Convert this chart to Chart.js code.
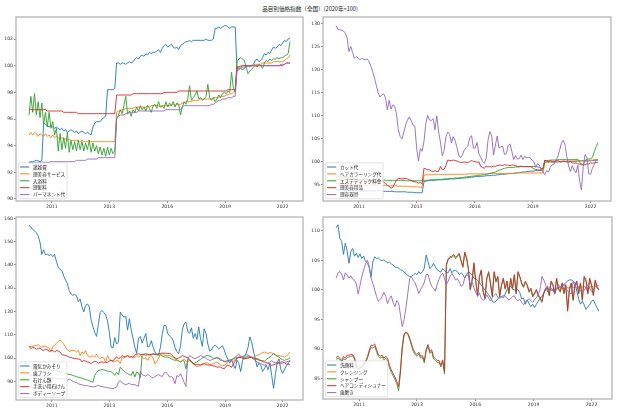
<!DOCTYPE html>
<html>
<head>
<meta charset="utf-8">
<script src="https://cdn.jsdelivr.net/npm/chart.js@4.4.1/dist/chart.umd.min.js"></script>
<style>
  html, body { margin: 0; padding: 0; background: #fff; }
  body { width: 620px; height: 413px; position: relative; overflow: hidden; }
  canvas { position: absolute; }
  #title { position: absolute; left: 0; top: 6px; width: 620px; text-align: center;
           font: 5.6px/7px "Noto Sans CJK JP"; color: #222; }
</style>
</head>
<body>
<div id="title">品目別価格指数（全国）(2020年=100)</div>
<canvas id="p1" width="310" height="203" style="left:0;top:12px"></canvas>
<canvas id="p2" width="310" height="203" style="left:307px;top:12px"></canvas>
<canvas id="p3" width="310" height="201" style="left:0;top:212px"></canvas>
<canvas id="p4" width="310" height="201" style="left:307px;top:212px"></canvas>
<script>
// monthly index, 0 = first month of the series (144 months)
const yearTicks = ['2011', '2013', '2016', '2019', '2022'];
const yearTickPos = [12.5, 44, 75.75, 107.5, 139];

// --- panel 1 ---
const labels1 = ['諸雑費', '理美容サービス', '入浴料', '理髪料', 'パーマネント代'];
const shozappi = [
  92.75, 92.8, 92.8, 92.85, 92.9, 92.85, 92.8, 92.9, 95.7, 95.6, 95.5, 95.4,
  95.5, 95.4, 95.3, 95.4, 95.3, 95.2, 95.3, 95.1, 95.2, 95.0, 95.1, 95.2,
  95.1, 95.0, 95.1, 94.9, 95.0, 95.1, 95.0, 94.9, 95.0, 94.9, 94.8, 95.4,
  95.7, 95.8, 95.8, 95.8, 96.0, 96.1, 96.2, 98.2, 98.2, 98.2, 98.2, 98.3,
  100.2, 100.2, 100.1, 100.2, 100.2, 100.1, 100.2, 100.3, 100.2, 100.3, 100.5, 100.6,
  100.5, 100.7, 100.8, 100.7, 100.9, 100.8, 101.0, 100.9, 101.0, 101.0, 101.1, 101.2,
  101.0, 101.3, 101.5, 101.6, 101.4, 101.5, 101.6, 101.4, 101.3, 101.4, 101.2, 101.5,
  101.6, 101.7, 101.8, 101.8, 101.9, 101.8, 101.9, 101.9, 101.9, 101.9, 101.9, 101.9,
  101.9, 102.0, 101.9, 101.9, 101.9, 102.0, 102.8, 102.8, 102.9, 102.8, 102.9, 103.0,
  103.0, 102.9, 102.8, 102.9, 102.9, 102.9, 99.6, 99.7, 99.8, 99.7, 99.8, 99.9,
  100.0, 99.9, 100.0, 100.1, 100.4, 100.5, 100.3, 100.4, 100.6, 100.9, 100.8, 101.0,
  100.9, 101.2, 101.4, 101.3, 101.4, 101.6, 101.5, 101.7, 101.9, 101.8, 102.0, 102.1
];
const riyoService = [
  94.8, 95.0, 94.8, 95.0, 94.9, 94.7, 94.9, 94.8, 94.7, 94.9, 94.7, 94.8,
  94.6, 94.8, 94.6, 94.7, 94.6, 94.5, 94.6, 94.5, 94.5, 94.4, 94.5, 94.4,
  94.4, 94.4, 94.4, 94.4, 94.3, 94.4, 94.3, 94.3, 94.3, 94.4, 94.3, 94.3,
  94.3, 94.3, 94.3, 94.3, 94.3, 94.3, 94.3, 94.3, 94.3, 94.3, 94.3, 94.3,
  96.5, 96.6, 96.6, 96.7, 96.7, 96.8, 96.8, 96.8, 96.8, 96.8, 96.9, 96.9,
  96.9, 96.9, 96.9, 96.9, 96.9, 97.0, 96.9, 97.0, 97.0, 97.0, 97.0, 97.0,
  96.9, 97.0, 97.0, 97.0, 97.0, 97.0, 97.0, 97.1, 97.0, 97.1, 97.1, 97.1,
  97.2, 97.2, 97.3, 97.3, 97.3, 97.3, 97.4, 97.4, 97.4, 97.4, 97.5, 97.5,
  97.5, 97.5, 97.5, 97.5, 97.5, 97.6, 97.6, 97.6, 97.6, 97.7, 97.7, 97.7,
  97.8, 97.8, 97.9, 97.9, 98.0, 98.1, 99.9, 99.9, 100.0, 100.0, 100.0, 100.0,
  100.0, 100.0, 100.0, 100.1, 100.1, 100.1, 100.1, 100.1, 100.2, 100.2, 100.2, 100.2,
  100.2, 100.2, 100.3, 100.3, 100.3, 100.3, 100.3, 100.3, 100.4, 100.5, 100.6, 100.8
];
const nyuyoku = [
  96.3, 97.7, 96.5, 97.9, 96.3, 97.3, 96.1, 97.2, 95.6, 96.5, 95.4, 96.5,
  95.3, 95.8, 94.8, 95.3, 93.6, 94.9, 93.7, 94.6, 93.8, 95.0, 93.5, 94.4,
  93.7, 94.3, 93.6, 94.4, 93.7, 94.3, 93.6, 94.2, 93.7, 94.4, 93.5, 94.2,
  93.6, 94.0, 93.4, 93.9, 93.3, 93.8, 93.2, 93.9, 93.3, 93.8, 93.4, 93.6,
  96.0, 96.3, 96.7, 96.4, 97.0, 97.7, 96.4, 96.6, 96.2, 96.7, 96.5, 96.9,
  96.6, 97.0, 96.7, 96.9, 96.6, 97.0, 96.8, 96.5, 97.0, 97.1, 96.8, 97.3,
  96.9, 97.0, 96.8, 97.3, 96.9, 97.2, 97.0, 97.3, 96.9, 97.2, 97.1, 96.3,
  96.9, 97.3, 97.1, 97.5, 98.5, 97.4, 97.6, 97.8, 98.1, 97.5, 97.6, 97.4,
  97.5, 97.7, 98.6, 97.6, 97.4, 97.6, 97.3, 97.5, 97.8, 97.6, 97.9, 98.0,
  97.9, 98.1, 98.0, 99.5, 98.3, 98.0, 100.3, 100.5, 100.6, 100.5, 100.4, 99.9,
  99.4, 99.6, 99.7, 99.9, 100.0, 99.9, 100.1, 100.0, 99.8, 100.2, 100.4, 100.3,
  100.5, 100.4, 100.5, 100.5, 100.6, 100.5, 100.6, 100.6, 100.7, 100.8, 100.9, 101.8
];
const rihatsu = [
  96.8, 96.7, 96.7, 96.7, 96.7, 96.7, 96.7, 96.7, 96.7, 96.7, 96.6, 96.6,
  96.6, 96.6, 96.6, 96.6, 96.6, 96.6, 96.6, 96.5, 96.5, 96.5, 96.5, 96.5,
  96.5, 96.5, 96.5, 96.4, 96.4, 96.4, 96.4, 96.4, 96.4, 96.4, 96.4, 96.4,
  96.4, 96.4, 96.4, 96.4, 96.4, 96.4, 96.4, 96.4, 96.4, 96.4, 96.4, 96.4,
  97.8, 97.8, 97.8, 97.8, 97.8, 97.8, 97.8, 97.8, 97.8, 97.9, 97.9, 97.9,
  97.9, 97.9, 97.9, 97.9, 97.9, 97.9, 97.9, 97.9, 97.9, 97.9, 97.9, 97.9,
  97.9, 97.9, 98.0, 98.0, 98.0, 98.0, 98.0, 98.0, 98.0, 98.0, 98.1, 98.1,
  98.1, 98.1, 98.1, 98.1, 98.1, 98.1, 98.1, 98.1, 98.1, 98.1, 98.1, 98.1,
  98.1, 98.1, 98.1, 98.1, 98.1, 98.1, 98.1, 98.1, 98.1, 98.1, 98.1, 98.1,
  98.1, 98.2, 98.2, 98.2, 98.2, 98.2, 99.9, 99.9, 99.9, 100.0, 100.0, 100.0,
  100.0, 100.0, 100.0, 100.0, 100.0, 100.0, 100.0, 100.0, 100.0, 100.0, 100.0, 100.0,
  100.0, 100.0, 100.0, 100.0, 100.0, 100.0, 100.0, 100.0, 100.1, 100.2, 100.2, 100.2
];
const permanent = [
  92.7, 92.7, 92.7, 92.7, 92.7, 92.7, 92.7, 92.8, 92.75, 92.75, 92.75, 92.75,
  92.8, 92.8, 92.8, 92.8, 92.8, 92.8, 92.8, 92.8, 92.8, 92.8, 92.8, 92.8,
  92.8, 92.8, 92.9, 92.9, 92.9, 92.9, 92.9, 92.9, 93.0, 93.0, 93.0, 93.0,
  93.0, 93.0, 93.1, 93.1, 93.1, 93.1, 93.1, 93.1, 93.1, 93.1, 93.1, 93.1,
  96.1, 96.2, 96.3, 96.3, 96.3, 96.4, 96.4, 96.5, 96.5, 96.5, 96.5, 96.5,
  96.6, 96.6, 96.6, 96.6, 96.6, 96.6, 96.6, 96.6, 96.6, 96.6, 96.6, 96.6,
  96.6, 96.6, 96.6, 96.7, 96.7, 96.7, 96.7, 96.7, 96.7, 96.7, 96.7, 96.7,
  96.9, 97.0, 97.0, 97.0, 97.0, 97.0, 97.0, 97.0, 97.0, 97.0, 97.0, 97.0,
  97.0, 97.0, 97.0, 97.0, 97.1, 97.1, 97.2, 97.3, 97.4, 97.4, 97.5, 97.5,
  97.5, 97.6, 97.6, 97.6, 97.7, 97.7, 99.7, 99.8, 99.8, 99.9, 99.9, 99.9,
  100.0, 100.0, 100.0, 100.0, 100.0, 100.0, 100.0, 100.0, 100.0, 100.0, 100.0, 100.0,
  100.0, 100.0, 100.0, 100.0, 100.0, 100.0, 100.1, 100.1, 100.1, 100.2, 100.2, 100.2
];

// --- panel 2 ---
const labels2 = ['カット代', 'ヘアカラーリング代', 'エステティック料金', '理美容用品', '理容器具'];
const cutDai = [
  93.9, 93.9, 93.9, 93.9, 93.9, 93.8, 93.8, 93.8, 93.8, 93.8, 93.8, 93.8,
  93.7, 93.7, 93.7, 93.7, 93.7, 93.7, 93.7, 93.7, 93.7, 93.7, 93.7, 93.7,
  93.7, 93.7, 93.6, 93.6, 93.6, 93.6, 93.6, 93.6, 93.5, 93.5, 93.5, 93.5,
  93.5, 93.5, 93.5, 93.4, 93.4, 93.4, 93.4, 93.3, 93.3, 93.3, 93.3, 93.3,
  95.7, 95.8, 95.9, 95.9, 96.0, 96.0, 96.0, 96.1, 96.1, 96.1, 96.1, 96.2,
  96.2, 96.2, 96.3, 96.3, 96.3, 96.3, 96.4, 96.4, 96.4, 96.5, 96.5, 96.5,
  96.6, 96.6, 96.7, 96.7, 96.8, 96.8, 96.8, 96.8, 96.9, 96.9, 97.0, 97.0,
  97.0, 97.1, 97.1, 97.1, 97.2, 97.2, 97.3, 97.3, 97.3, 97.4, 97.4, 97.5,
  97.5, 97.5, 97.6, 97.6, 97.7, 97.7, 97.8, 97.8, 97.9, 97.9, 98.0, 98.0,
  98.0, 98.1, 98.1, 98.1, 98.2, 98.2, 100.0, 100.0, 100.0, 100.0, 100.0, 100.0,
  100.0, 100.0, 100.0, 100.0, 100.1, 100.1, 100.1, 100.1, 100.1, 100.1, 100.1, 100.1,
  100.2, 100.2, 100.2, 100.2, 100.2, 100.2, 100.2, 100.2, 100.3, 100.3, 100.4, 100.4
];
const hairColor = [
  95.3, 95.3, 95.3, 95.2, 95.2, 95.2, 95.2, 95.1, 95.1, 95.1, 95.1, 95.1,
  95.0, 95.0, 95.0, 95.0, 95.0, 95.0, 95.0, 95.0, 95.0, 95.0, 95.0, 95.0,
  95.0, 94.9, 94.9, 94.9, 94.9, 94.8, 94.8, 94.8, 94.8, 94.8, 94.7, 94.7,
  94.7, 94.7, 94.7, 94.7, 94.6, 94.6, 94.6, 94.6, 94.6, 94.5, 94.5, 94.5,
  97.1, 97.2, 97.2, 97.2, 97.2, 97.2, 97.3, 97.3, 97.3, 97.3, 97.3, 97.3,
  97.3, 97.3, 97.3, 97.3, 97.3, 97.3, 97.3, 97.3, 97.3, 97.3, 97.3, 97.3,
  97.4, 97.4, 97.4, 97.4, 97.4, 97.4, 97.4, 97.4, 97.4, 97.4, 97.4, 97.4,
  97.5, 97.5, 97.5, 97.5, 97.5, 97.5, 97.5, 97.5, 97.5, 97.5, 97.5, 97.5,
  97.5, 97.5, 97.6, 97.6, 97.6, 97.6, 97.6, 97.6, 97.6, 97.6, 97.6, 97.6,
  97.6, 97.6, 97.6, 97.6, 97.6, 97.6, 99.9, 99.9, 100.0, 100.0, 100.0, 100.0,
  100.0, 100.1, 100.1, 100.1, 100.1, 100.1, 100.2, 100.2, 100.2, 100.2, 100.2, 100.2,
  100.3, 100.3, 100.3, 100.3, 100.3, 100.3, 100.3, 100.4, 100.4, 100.5, 100.5, 100.5
];
const esthe = [
  96.2, 96.2, 96.2, 96.2, 96.2, 96.2, 96.2, 96.2, 96.2, 96.2, 96.2, 96.2,
  96.1, 96.1, 96.1, 96.1, 96.1, 96.1, 96.1, 96.1, 96.1, 96.1, 96.1, 96.1,
  96.1, 96.1, 96.0, 96.0, 96.0, 96.0, 96.0, 96.0, 96.0, 96.0, 96.0, 96.0,
  96.0, 96.0, 95.9, 95.9, 95.9, 95.9, 95.9, 95.9, 95.9, 95.9, 95.9, 95.9,
  96.0, 96.0, 96.0, 96.1, 96.1, 96.1, 96.1, 96.2, 96.2, 96.2, 96.2, 96.3,
  96.3, 96.3, 96.4, 96.4, 96.4, 96.5, 96.5, 96.5, 96.6, 96.6, 96.7, 96.7,
  96.8, 96.8, 96.9, 96.9, 97.0, 97.0, 97.1, 97.1, 97.2, 97.2, 97.3, 97.4,
  97.5, 97.6, 97.7, 97.8, 98.0, 98.2, 98.3, 98.5, 98.6, 98.7, 98.8, 98.8,
  98.8, 98.8, 98.9, 98.9, 98.9, 99.0, 99.0, 99.0, 99.0, 99.0, 99.0, 99.0,
  99.0, 99.0, 98.9, 98.8, 98.6, 98.5, 100.3, 100.3, 100.3, 100.4, 100.4, 100.4,
  100.4, 100.5, 100.5, 100.5, 100.5, 100.5, 100.5, 100.5, 100.5, 100.5, 100.5, 100.5,
  100.6, 100.0, 99.3, 99.4, 100.3, 100.6, 100.6, 100.7, 101.0, 102.2, 103.3, 104.1
];
const biyoYohin = [
  96.8, 96.7, 96.9, 96.6, 96.5, 96.7, 96.4, 96.6, 96.3, 96.2, 96.4, 96.1,
  96.0, 96.2, 95.9, 96.1, 95.8, 95.9, 96.0, 95.7, 95.8, 95.6, 95.7, 95.9,
  95.8, 95.7, 95.6, 95.3, 95.0, 94.6, 94.3, 94.5, 95.3, 96.1, 96.4, 96.4,
  96.3, 96.4, 96.4, 96.3, 96.1, 96.0, 95.7, 95.7, 95.6, 95.4, 95.5, 95.3,
  98.6, 98.5, 98.3, 98.3, 98.0, 97.9, 98.1, 97.9, 97.9, 99.0, 98.3, 98.4,
  99.2, 100.4, 100.3, 100.3, 100.4, 100.3, 100.2, 100.0, 99.9, 99.9, 100.0, 99.9,
  99.9, 100.0, 100.4, 100.0, 100.1, 99.9, 100.0, 99.0, 98.8, 98.6, 99.1, 98.9,
  99.0, 98.9, 99.1, 99.0, 99.2, 99.3, 99.3, 99.2, 99.4, 99.3, 99.3, 99.2,
  99.3, 99.3, 99.2, 99.0, 99.0, 99.1, 98.9, 99.0, 99.0, 98.9, 99.0, 98.8,
  98.5, 98.3, 98.3, 98.2, 98.4, 98.6, 100.4, 100.2, 100.0, 100.3, 100.1, 100.0,
  100.2, 100.3, 100.1, 100.0, 100.2, 100.1, 100.0, 99.9, 100.1, 99.8, 99.7, 99.8,
  99.6, 99.5, 99.6, 99.3, 99.4, 99.6, 99.5, 99.8, 99.7, 99.8, 99.9, 99.9
];
const riyoKigu = [
  129.6, 128.8, 128.7, 128.6, 128.5, 128.0, 127.0, 124.0, 125.1, 123.8, 122.5, 122.9,
  122.6, 122.2, 122.5, 122.3, 122.2, 122.4, 121.8, 120.8, 119.6, 118.2, 116.6, 115.0,
  114.1, 114.6, 114.8, 113.9, 111.3, 113.4, 111.5, 112.4, 112.1, 110.4, 107.0, 105.5,
  105.0, 106.5, 108.0, 109.1, 109.8, 109.0, 108.0, 107.8, 103.0, 100.2, 102.9, 102.3,
  104.5, 108.3, 110.1, 109.1, 109.0, 109.4, 107.0, 110.0, 106.5, 104.3, 101.3, 102.5,
  105.5, 106.5, 106.0, 104.1, 105.5, 104.7, 103.1, 101.5, 100.9, 101.5, 102.6, 103.1,
  103.5, 105.2, 105.7, 103.0, 103.0, 104.2, 101.8, 101.0, 100.1, 99.7, 100.8, 104.8,
  106.6, 105.7, 101.5, 103.6, 105.6, 103.0, 103.3, 103.4, 101.6, 101.8, 103.6, 103.9,
  102.3, 100.5, 101.4, 100.6, 100.7, 101.5, 100.5, 101.2, 100.9, 101.0, 100.9, 100.4,
  100.1, 98.8, 99.6, 99.3, 98.5, 97.8, 97.2, 98.1, 97.8, 98.8, 99.4, 99.4,
  100.4, 101.0, 102.4, 104.0, 104.7, 103.8, 101.2, 99.1, 97.9, 99.2, 98.2, 97.6,
  99.3, 96.0, 93.9, 99.0, 101.6, 100.9, 97.4, 97.3, 98.6, 99.4, 100.3, 100.6
];

// --- panel 3 ---
const labels3 = ['電気かみそり', '歯ブラシ', '石けん類', '手洗い用石けん', 'ボディーソープ'];
const kamisori = [
  156.9, 156.3, 155.2, 154.6, 153.8, 152.5, 149.7, 144.5, 146.5, 144.3, 144.7, 144.0,
  144.5, 143.5, 144.5, 141.5, 139.0, 138.0, 137.5, 135.2, 133.5, 132.0, 129.0, 127.5,
  127.0, 127.2, 126.8, 124.2, 125.3, 122.0, 119.8, 122.5, 123.2, 122.0, 116.5, 113.5,
  111.0, 109.3, 114.5, 119.7, 120.5, 119.5, 118.5, 116.0, 111.0, 104.7, 104.5, 108.8,
  106.0, 107.0, 119.7, 118.5, 117.5, 118.0, 112.0, 116.9, 112.0, 108.5, 104.7, 102.0,
  108.5, 109.3, 106.5, 108.5, 110.5, 104.8, 105.0, 107.5, 104.7, 102.6, 101.4, 101.5,
  104.5, 110.3, 114.0, 114.0, 110.5, 109.5, 108.8, 107.5, 104.5, 102.8, 101.9, 105.0,
  112.0, 114.7, 115.3, 111.5, 110.6, 113.0, 108.5, 110.5, 108.0, 113.3, 108.3, 105.0,
  112.6, 110.5, 106.0, 103.0, 103.5, 105.0, 105.5, 104.8, 104.0, 104.6, 105.3, 103.5,
  101.0, 99.5, 97.8, 99.5, 97.0, 95.5, 99.2, 97.6, 94.2, 99.0, 100.8, 102.0,
  104.5, 109.0, 107.0, 103.0, 99.5, 96.2, 97.8, 96.9, 94.2, 95.4, 97.0, 95.0,
  97.8, 92.5, 87.0, 92.8, 98.0, 99.6, 95.0, 93.5, 95.0, 96.6, 97.5, 99.0
];
const haBrush = [
  105.0, 105.0, 105.1, 105.3, 105.4, 105.7, 105.2, 104.7, 105.0, 105.1, 104.6, 104.3,
  102.8, 105.0, 105.6, 106.3, 107.2, 107.8, 107.0, 106.0, 104.8, 103.6, 102.8, 103.2,
  103.3, 103.2, 102.6, 103.3, 101.1, 102.6, 101.9, 103.3, 101.1, 100.6, 100.4, 101.1,
  100.4, 101.6, 100.4, 99.7, 100.4, 100.0, 98.3, 101.1, 99.5, 99.0, 98.5, 98.3,
  99.0, 98.8, 97.6, 100.4, 100.0, 100.8, 101.1, 100.4, 100.6, 100.0, 100.2, 101.1,
  100.4, 101.1, 100.4, 99.7, 100.2, 99.0, 100.5, 101.1, 100.0, 97.5, 98.5, 100.0,
  101.6, 101.9, 101.3, 101.1, 101.1, 101.1, 100.6, 100.4, 99.7, 99.0, 98.7, 98.3,
  99.0, 99.5, 98.8, 98.3, 99.0, 98.6, 97.5, 97.0, 96.2, 96.6, 96.9, 97.3,
  97.6, 98.0, 97.9, 97.1, 97.3, 97.5, 97.9, 98.3, 97.8, 96.9, 96.9, 96.9,
  97.4, 98.1, 99.0, 98.5, 98.6, 99.5, 100.0, 100.2, 100.4, 100.0, 99.7, 100.0,
  100.0, 100.3, 100.4, 100.4, 100.8, 101.1, 101.5, 101.9, 102.3, 102.6, 102.2, 101.9,
  102.4, 102.2, 101.9, 101.4, 101.1, 101.1, 100.9, 100.7, 100.4, 101.1, 101.5, 102.6
];
const sekkenRui = [
  96.5, 96.2, 96.4, 96.0, 95.8, 96.1, 95.7, 95.5, 95.6, 95.2, 95.4, 95.0,
  94.8, 94.9, 94.5, 94.6, 94.2, 94.0, 94.1, 93.6, 93.5, 93.2, 93.0, 92.9,
  92.5, 92.3, 92.0, 91.8, 91.6, 91.4, 91.1, 90.8, 90.6, 90.3, 89.9, 89.6,
  92.5, 93.8, 94.7, 94.9, 95.1, 94.9, 94.7, 94.4, 94.3, 94.1, 93.5, 92.6,
  93.9, 92.8, 96.1, 95.2, 94.5, 93.7, 93.3, 92.9, 92.6, 94.3, 91.9, 94.0,
  93.5, 91.5, 101.5, 101.7, 101.9, 101.6, 101.5, 101.4, 101.9, 101.7, 101.4, 101.3,
  101.4, 100.9, 100.6, 100.4, 100.4, 100.1, 99.7, 99.3, 99.0, 99.3, 98.8, 98.3,
  98.9, 98.8, 95.4, 99.5, 99.0, 98.3, 97.6, 98.0, 98.3, 99.0, 99.3, 100.1,
  100.4, 101.0, 101.1, 100.8, 100.5, 99.8, 99.8, 100.1, 99.7, 99.1, 98.9, 98.7,
  98.3, 98.7, 99.0, 99.3, 99.7, 100.0, 100.2, 100.4, 100.4, 100.4, 100.3, 100.4,
  101.0, 100.5, 100.3, 100.2, 100.0, 99.8, 99.4, 99.0, 98.9, 98.6, 99.4, 100.0,
  100.4, 101.2, 101.9, 101.3, 100.8, 100.4, 99.7, 99.3, 99.0, 99.4, 99.6, 100.0
];
const tearaiSekken = [
  105.1, 104.0, 104.7, 104.4, 103.7, 104.2, 104.3, 103.6, 103.3, 103.7, 103.6, 102.9,
  103.1, 103.3, 102.5, 103.3, 103.0, 102.6, 101.4, 101.3, 101.1, 100.8, 100.4, 100.2,
  100.0, 99.8, 99.7, 99.6, 99.5, 98.3, 99.0, 98.7, 98.3, 98.1, 97.6, 98.3,
  98.6, 98.5, 97.8, 98.2, 98.4, 97.9, 98.3, 98.0, 98.8, 99.0, 98.7, 99.8,
  100.4, 99.8, 100.2, 101.1, 100.6, 100.5, 101.0, 100.5, 100.6, 100.4, 101.4, 101.6,
  101.9, 101.5, 101.6, 101.4, 101.3, 101.4, 101.4, 101.6, 101.8, 101.5, 101.6, 101.9,
  102.0, 102.1, 102.1, 102.1, 102.0, 102.0, 101.6, 100.7, 100.1, 99.7, 100.0, 100.4,
  101.1, 100.8, 100.4, 100.2, 99.4, 98.5, 97.6, 97.2, 97.2, 97.2, 97.0, 97.4,
  97.6, 97.2, 97.0, 97.0, 96.9, 96.6, 96.5, 96.1, 96.2, 96.1, 95.6, 95.4,
  96.5, 97.0, 96.6, 96.0, 97.4, 98.8, 100.0, 100.3, 100.4, 99.9, 99.7, 99.9,
  100.0, 100.3, 100.2, 99.7, 99.6, 99.4, 99.1, 98.9, 98.5, 98.3, 98.1, 97.8,
  97.0, 96.9, 97.1, 97.4, 97.6, 98.0, 98.3, 98.4, 98.0, 97.4, 97.4, 97.1
];
const bodySoap = [
  92.8, 92.6, 92.7, 92.4, 92.5, 92.2, 92.3, 92.0, 92.1, 91.8, 91.9, 91.6,
  91.7, 91.4, 91.5, 91.3, 91.2, 91.0, 91.1, 90.8, 90.6, 90.4, 91.0, 90.6,
  90.0, 89.7, 89.5, 89.0, 88.7, 88.5, 88.3, 88.1, 88.2, 87.9, 87.8, 87.6,
  87.7, 88.0, 88.3, 87.9, 87.7, 87.6, 87.4, 87.3, 87.1, 87.0, 86.9, 87.2,
  87.6, 89.7, 90.4, 89.3, 88.9, 88.6, 88.9, 89.2, 88.6, 88.6, 88.6, 88.2,
  87.9, 94.3, 92.9, 92.5, 92.3, 92.9, 92.5, 91.8, 91.4, 92.0, 92.6, 92.9,
  92.4, 92.1, 93.6, 94.0, 93.0, 91.9, 92.1, 91.4, 89.0, 92.5, 92.0, 93.3,
  91.5, 89.5, 87.8, 99.7, 101.0, 100.6, 100.0, 99.7, 100.2, 100.6, 101.1, 100.7,
  100.4, 99.8, 99.4, 99.0, 99.2, 99.6, 100.1, 100.4, 100.0, 99.7, 98.8, 98.3,
  98.8, 99.0, 99.2, 99.4, 99.7, 100.4, 101.1, 101.8, 100.6, 100.7, 101.1, 101.3,
  101.4, 100.8, 100.4, 99.5, 99.0, 98.3, 97.9, 97.6, 97.2, 96.9, 97.3, 97.9,
  98.4, 98.8, 98.3, 98.0, 98.2, 97.8, 97.5, 97.9, 98.2, 98.3, 98.6, 99.0
];

// --- panel 4 ---
const labels4 = ['洗顔料', 'クレンジング', 'シャンプー', 'ヘアコンディショナー', '歯磨き'];
const senganryo = [
  110.5, 111.0, 108.7, 108.2, 106.0, 107.9, 106.6, 104.5, 106.5, 107.0, 105.7, 106.2,
  105.5, 106.1, 105.3, 105.7, 104.8, 104.5, 103.8, 102.2, 104.8, 105.6, 105.3, 105.4,
  105.1, 104.9, 105.1, 104.8, 104.6, 104.7, 104.4, 104.2, 103.9, 103.8, 103.7, 103.4,
  103.3, 103.0, 102.8, 102.4, 102.3, 102.3, 102.5, 102.8, 102.6, 103.1, 102.7, 103.1,
  103.7, 105.9, 104.8, 103.6, 103.9, 104.5, 103.9, 103.4, 103.2, 103.0, 103.6, 103.3,
  102.9, 102.9, 103.6, 102.9, 103.3, 103.3, 103.1, 102.6, 102.9, 102.6, 102.0, 102.6,
  103.1, 102.9, 102.5, 102.0, 101.9, 101.6, 101.2, 100.8, 100.4, 100.0, 99.6, 99.2,
  98.7, 98.1, 97.9, 98.1, 98.5, 98.8, 98.9, 98.7, 99.3, 100.1, 100.4, 100.6,
  100.2, 100.0, 100.3, 100.0, 99.5, 98.5, 98.6, 97.6, 98.3, 97.7, 97.2, 97.6,
  97.0, 97.6, 98.1, 98.6, 98.9, 99.5, 100.0, 100.3, 100.1, 100.0, 99.9, 99.8,
  100.2, 100.4, 100.5, 100.6, 100.9, 101.2, 101.5, 101.7, 101.7, 101.5, 101.2, 99.8,
  98.5, 97.6, 98.1, 97.5, 96.7, 97.2, 97.5, 98.1, 98.3, 97.6, 97.0, 96.4
];
// クレンジング is only published from month 117 onward
const cleansingStart = 117;
const cleansing = [
  100.0, 100.1, 100.1, 100.2, 100.2, 100.1, 100.2, 100.3, 100.3, 100.4, 100.3, 100.4,
  100.4, 100.5, 100.4, 100.5, 100.5, 100.5, 100.6, 100.5, 99.6, 100.5, 100.6, 100.6,
  100.7, 100.7, 100.8
];
const shampoo = [
  88.3, 88.5, 88.2, 87.8, 88.4, 88.2, 88.6, 88.7, 88.8, 88.9, 88.3, 87.0,
  86.5, 86.8, 87.0, 87.3, 87.8, 88.4, 89.5, 90.3, 90.2, 90.5, 89.6, 88.8,
  88.5, 88.7, 88.2, 88.5, 88.1, 86.9, 86.1, 85.5, 84.9, 84.2, 83.0, 86.0,
  90.2, 92.4, 92.8, 92.5, 91.7, 90.7, 89.6, 89.1, 88.8, 89.2, 88.5, 88.6,
  87.7, 89.7, 90.5, 89.3, 89.6, 88.4, 88.1, 87.8, 87.8, 87.0, 87.9, 85.8,
  104.1, 105.1, 105.4, 105.5, 105.8, 105.3, 105.6, 106.0, 104.8, 103.8, 106.2, 105.3,
  103.4, 100.0, 101.5, 104.3, 101.3, 99.0, 102.1, 103.2, 99.6, 98.5, 101.8, 102.9,
  101.0, 98.8, 102.9, 101.3, 102.1, 98.8, 100.7, 101.8, 100.1, 101.3, 99.3, 101.8,
  100.1, 102.4, 99.3, 102.9, 102.1, 101.0, 100.4, 101.3, 100.7, 99.6, 100.1, 98.8,
  99.3, 99.9, 99.0, 98.5, 97.9, 99.3, 100.1, 100.4, 99.0, 101.3, 100.7, 99.3,
  101.8, 100.1, 99.6, 101.0, 99.3, 100.7, 96.8, 100.1, 101.0, 98.2, 100.7, 101.3,
  99.3, 101.0, 98.2, 102.1, 101.5, 99.3, 101.8, 100.7, 99.0, 101.5, 100.4, 100.0
];
const conditioner = [
  88.6, 88.8, 88.5, 88.0, 88.8, 88.5, 89.0, 89.0, 89.1, 89.1, 88.6, 87.3,
  86.7, 87.0, 87.2, 87.6, 88.0, 88.7, 89.8, 90.7, 90.6, 90.9, 89.9, 89.1,
  88.8, 89.0, 88.5, 88.8, 88.5, 87.3, 86.5, 85.9, 85.3, 84.6, 83.7, 86.5,
  90.5, 92.6, 92.9, 92.7, 91.9, 90.9, 89.9, 89.4, 89.1, 89.5, 88.8, 88.9,
  88.0, 90.0, 90.8, 89.6, 89.9, 88.7, 88.4, 88.1, 88.1, 87.3, 88.2, 86.2,
  104.3, 105.3, 105.6, 105.7, 106.0, 105.5, 105.8, 106.2, 105.0, 104.0, 106.4, 105.5,
  103.6, 100.1, 101.7, 104.6, 101.5, 99.2, 102.3, 103.4, 99.8, 98.7, 102.0, 103.1,
  101.2, 99.0, 103.1, 101.5, 102.3, 99.0, 100.9, 102.0, 100.3, 101.5, 99.5, 102.0,
  100.3, 102.6, 99.5, 103.1, 102.3, 101.2, 100.6, 101.5, 100.9, 99.8, 100.3, 99.0,
  99.5, 100.1, 99.2, 98.7, 98.1, 99.5, 100.3, 100.6, 99.2, 101.5, 100.9, 99.5,
  102.0, 100.3, 99.8, 101.2, 99.5, 100.9, 96.4, 100.3, 101.2, 98.4, 100.9, 101.5,
  99.5, 101.2, 98.4, 102.3, 101.7, 99.5, 102.0, 100.9, 99.2, 101.7, 100.6, 100.1
];
const hamigaki = [
  102.0, 102.9, 103.1, 102.7, 101.7, 102.9, 102.5, 102.0, 102.4, 101.8, 101.6, 101.0,
  99.3, 100.8, 102.3, 103.4, 104.4, 105.0, 104.0, 102.0, 101.1, 100.0, 98.9, 98.1,
  98.4, 98.9, 99.6, 98.9, 97.7, 98.5, 99.0, 97.9, 97.2, 98.2, 97.8, 95.8,
  93.8, 95.0, 97.0, 99.4, 101.9, 102.2, 101.6, 101.2, 100.3, 99.4, 100.1, 100.6,
  101.3, 102.6, 102.6, 101.5, 100.6, 100.3, 99.8, 100.9, 101.8, 102.5, 102.8, 101.9,
  100.9, 101.5, 102.3, 102.8, 102.3, 101.7, 101.9, 101.4, 100.6, 100.8, 102.0, 102.6,
  102.4, 100.9, 101.4, 100.3, 99.6, 98.9, 99.5, 98.6, 98.2, 98.5, 99.2, 98.6,
  98.1, 98.7, 99.1, 99.4, 98.7, 98.6, 98.8, 99.1, 99.0, 98.6, 98.3, 98.5,
  98.9, 99.0, 98.4, 98.2, 98.4, 97.9, 97.5, 97.9, 98.3, 98.5, 98.2, 97.9,
  98.4, 98.7, 99.2, 100.1, 102.3, 101.7, 100.9, 99.7, 100.5, 100.3, 100.0, 99.3,
  100.3, 100.9, 100.5, 100.6, 100.9, 100.3, 99.8, 99.5, 99.3, 101.4, 100.6, 101.0,
  100.3, 99.8, 99.6, 99.9, 100.5, 100.9, 100.3, 99.7, 100.2, 100.6, 100.4, 100.1
];

// --- drawing ---
const palette = ['#1f77b4', '#ff7f0e', '#2ca02c', '#d62728', '#9467bd'];
const tickFont = { family: 'DejaVu Sans', size: 4.6 };
const xMin = -7.15;
const xMax = 150.15;

function points(vals, start) {
  return vals.map((v, i) => ({ x: start + i, y: v }));
}

// grey box round the plot, like the matplotlib axes frame
const axesFrame = {
  id: 'axesFrame',
  afterDatasetsDraw(chart) {
    const { ctx, chartArea: a } = chart;
    ctx.save();
    ctx.strokeStyle = '#b0b0b0';
    ctx.lineWidth = 1.2;
    ctx.strokeRect(a.left, a.top, a.right - a.left, a.bottom - a.top);
    ctx.restore();
  },
};

// legend in the lower left corner, inside the plot
const insetLegend = {
  id: 'insetLegend',
  afterDraw(chart) {
    const { ctx, chartArea: a } = chart;
    const sets = chart.data.datasets;
    const fs = 4.6, pad = 1.8, gap = 2.3, handle = 9.2, handleGap = 3.7, inset = 2.3;
    ctx.save();
    ctx.font = fs + 'px "Noto Sans CJK JP"';
    const textW = Math.max(...sets.map((d) => ctx.measureText(d.label).width));
    const w = pad * 2 + handle + handleGap + textW;
    const h = pad * 2 + sets.length * fs + (sets.length - 1) * gap;
    const x = a.left + inset;
    const y = a.bottom - inset - h;
    ctx.beginPath();
    ctx.roundRect(x, y, w, h, 1.5);
    ctx.fillStyle = 'rgba(255,255,255,0.8)';
    ctx.fill();
    ctx.strokeStyle = '#d0d0d0';
    ctx.lineWidth = 0.6;
    ctx.stroke();
    ctx.textBaseline = 'middle';
    sets.forEach((d, k) => {
      const cy = y + pad + k * (fs + gap) + fs / 2;
      ctx.beginPath();
      ctx.moveTo(x + pad, cy);
      ctx.lineTo(x + pad + handle, cy);
      ctx.strokeStyle = d.borderColor;
      ctx.lineWidth = 1;
      ctx.stroke();
      ctx.fillStyle = '#222';
      ctx.fillText(d.label, x + pad + handle + handleGap, cy);
    });
    ctx.restore();
  },
};

function drawPanel(p) {
  const grid = { drawOnChartArea: false, drawTicks: true, tickLength: 2, color: '#444', lineWidth: 0.6 };
  new Chart(document.getElementById(p.canvas), {
    type: 'line',
    data: {
      datasets: p.labels.map((label, k) => ({
        label,
        data: points(p.series[k], p.starts ? p.starts[k] : 0),
        borderColor: palette[k],
        backgroundColor: palette[k],
        borderWidth: 0.9,
        pointRadius: 0,
        tension: 0,
        fill: false,
        order: p.labels.length - k,
      })),
    },
    options: {
      responsive: false,
      animation: false,
      devicePixelRatio: 1,
      events: [],
      layout: { padding: { top: 5, right: p.padRight, left: 0, bottom: 0 } },
      plugins: { legend: { display: false }, tooltip: { enabled: false } },
      scales: {
        x: {
          type: 'linear',
          min: xMin,
          max: xMax,
          afterBuildTicks: (s) => { s.ticks = yearTickPos.map((value) => ({ value })); },
          afterFit: (s) => { s.height = p.xAxisH; },
          ticks: { callback: (v, i) => yearTicks[i], font: tickFont, color: '#333', padding: 1, maxRotation: 0, autoSkip: false },
          grid,
          border: { display: false },
        },
        y: {
          min: p.yMin,
          max: p.yMax,
          afterBuildTicks: (s) => { s.ticks = p.yTicks.map((value) => ({ value })); },
          afterFit: (s) => { s.width = 16; },
          ticks: { callback: (v) => String(v), font: tickFont, color: '#333', padding: 1 },
          grid,
          border: { display: false },
        },
      },
    },
    plugins: [axesFrame, insetLegend],
  });
}

drawPanel({
  canvas: 'p1', labels: labels1,
  series: [shozappi, riyoService, nyuyoku, rihatsu, permanent],
  yMin: 89.85, yMax: 103.65, yTicks: [90, 92, 94, 96, 98, 100, 102],
  padRight: 7, xAxisH: 14,
});
drawPanel({
  canvas: 'p2', labels: labels2,
  series: [cutDai, hairColor, esthe, biyoYohin, riyoKigu],
  yMin: 91.5, yMax: 131.5, yTicks: [95, 100, 105, 110, 115, 120, 125, 130],
  padRight: 6, xAxisH: 14,
});
drawPanel({
  canvas: 'p3', labels: labels3,
  series: [kamisori, haBrush, sekkenRui, tearaiSekken, bodySoap],
  yMin: 82.0, yMax: 160.56, yTicks: [90, 100, 110, 120, 130, 140, 150, 160],
  padRight: 7, xAxisH: 13,
});
drawPanel({
  canvas: 'p4', labels: labels4,
  series: [senganryo, cleansing, shampoo, conditioner, hamigaki],
  starts: [0, cleansingStart, 0, 0, 0],
  yMin: 81.6, yMax: 112.31, yTicks: [85, 90, 95, 100, 105, 110],
  padRight: 5, xAxisH: 14,
});
</script>
</body>
</html>
